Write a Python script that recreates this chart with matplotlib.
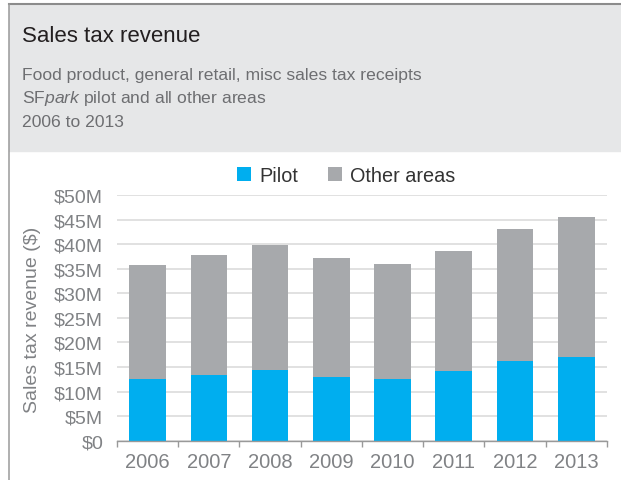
import numpy as np
import matplotlib
matplotlib.use('Agg')
import matplotlib.pyplot as plt
from matplotlib.patches import Rectangle
from matplotlib.lines import Line2D

plt.rcParams['font.family'] = 'Liberation Sans'
plt.rcParams['mathtext.fontset'] = 'custom'
plt.rcParams['mathtext.rm'] = 'Liberation Sans'
plt.rcParams['mathtext.it'] = 'Liberation Sans:italic'

# values in $M
years = ['2006', '2007', '2008', '2009', '2010', '2011', '2012', '2013']
pilot = [12.6, 13.4, 14.45, 13.0, 12.5, 14.1, 16.3, 17.1]
other = [23.15, 24.45, 25.35, 24.2, 23.4, 24.6, 26.7, 28.4]
yticks = [0, 5, 10, 15, 20, 25, 30, 35, 40, 45, 50]
ytick_labels = ['$0'] + ['$%dM' % v for v in yticks[1:]]

blue = '#00aeef'
grey = '#a7a9ac'
txtgrey = '#808285'

fig = plt.figure(figsize=(6.21, 4.81), dpi=100)
W, H = 621.0, 481.0

# header band and frame
fig.patches.append(Rectangle((9 / W, 1 - 152 / H), 1 - 9 / W, 147 / H,
                             transform=fig.transFigure, color='#e6e7e8', zorder=0))
fig.lines.append(Line2D([8.5 / W, 1], [1 - 5 / H, 1 - 5 / H], transform=fig.transFigure,
                        color='#8c8c8c', lw=1.5))
fig.lines.append(Line2D([8.5 / W, 8.5 / W], [0, 1 - 5 / H], transform=fig.transFigure,
                        color='#9a9a9a', lw=1.1))

fig.text(22 / W, 1 - 41.7 / H, 'Sales tax revenue', fontsize=16, color='#231f20', va='baseline')
fig.text(22 / W, 1 - 80 / H, 'Food product, general retail, misc sales tax receipts',
         fontsize=12.6, color='#6d6e71', va='baseline')
fig.text(22 / W, 1 - 103.3 / H, r'SF$\mathit{park}$ pilot and all other areas',
         fontsize=12.6, color='#6d6e71', va='baseline')
fig.text(22 / W, 1 - 126.7 / H, '2006 to 2013', fontsize=12.6, color='#6d6e71', va='baseline')

ax = fig.add_axes([117 / W, 1 - 441.7 / H, 490 / W, 245.7 / H])
x = np.arange(len(years))
ax.bar(x, pilot, width=0.6, color=blue, label='Pilot', zorder=3)
ax.bar(x, other, width=0.6, bottom=pilot, color=grey, label='Other areas', zorder=3)

ax.set_xlim(-0.5, len(years) - 0.5)
ax.set_ylim(0, 50)
ax.set_yticks(yticks)
ax.set_yticklabels(ytick_labels)
ax.set_xticks(x)
ax.set_xticklabels(years)
ax.set_xticks(np.arange(-0.5, len(years)), minor=True)
ax.tick_params(axis='x', which='major', length=0, pad=8, labelsize=14.5, labelcolor=txtgrey)
ax.tick_params(axis='x', which='minor', length=4, width=1, color='#999999', direction='out')
ax.tick_params(axis='y', length=0, pad=10, labelsize=14, labelcolor=txtgrey)

ax.grid(axis='y', color='#dcdcdc', lw=1.2, zorder=0)
for s in ['top', 'right', 'left']:
    ax.spines[s].set_visible(False)
ax.spines['bottom'].set_color('#999999')
ax.spines['bottom'].set_linewidth(1)
ax.spines['bottom'].set_zorder(4)

fig.text(33 / W, 1 - 320 / H, 'Sales tax revenue ($)', rotation=90, fontsize=14,
         color=txtgrey, ha='center', va='center')

fig.legend(loc='center', bbox_to_anchor=(346 / W, 1 - 176 / H), ncol=2, frameon=False,
           fontsize=14.3, handlelength=0.7, handleheight=0.7, handletextpad=0.4,
           columnspacing=1.5, labelcolor='#333333')

fig.savefig('out.png', dpi=100)
